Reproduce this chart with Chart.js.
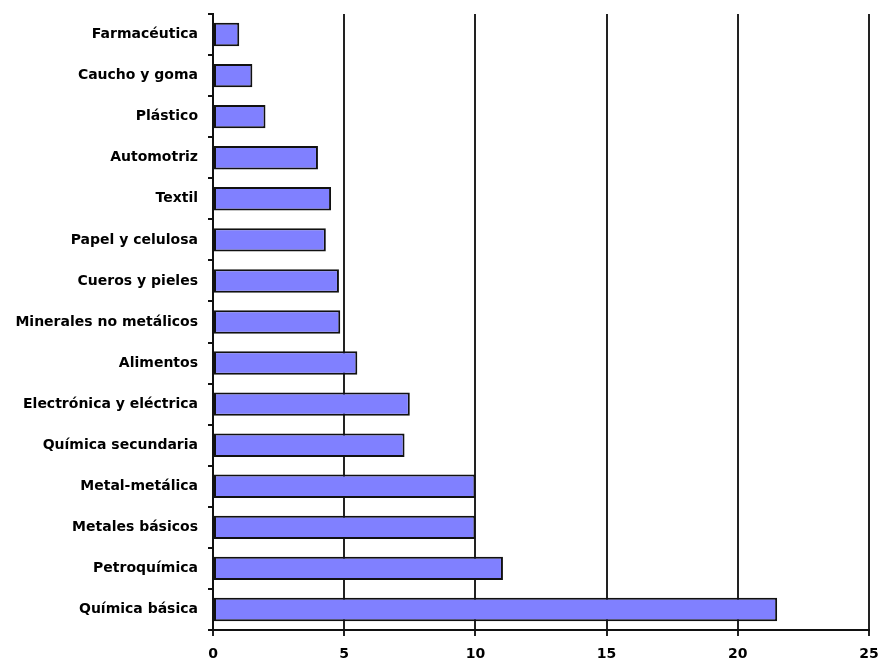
<!DOCTYPE html>
<html lang="es">
  <head>
    <meta charset="utf-8" />
    <title>Sectores industriales</title>
    <script src="https://cdn.jsdelivr.net/npm/chart.js"></script>
    <style>
      html,
      body {
        margin: 0;
        padding: 0;
        background: #ffffff;
      }
      #chart {
        display: block;
      }
    </style>
  </head>
  <body>
    <canvas id="chart" width="881" height="663"></canvas>
    <script>
      // sectors, top to bottom
      const sectores = [
        "Farmacéutica",
        "Caucho y goma",
        "Plástico",
        "Automotriz",
        "Textil",
        "Papel y celulosa",
        "Cueros y pieles",
        "Minerales no metálicos",
        "Alimentos",
        "Electrónica y eléctrica",
        "Química secundaria",
        "Metal-metálica",
        "Metales básicos",
        "Petroquímica",
        "Química básica",
      ];
      const valores = [
        1.0, 1.5, 2.0, 4.0, 4.5, 4.3, 4.8, 4.85, 5.5, 7.5, 7.3, 10.0, 10.0,
        11.05, 21.5,
      ];
      const ejeMin = 0;
      const ejeMax = 25;
      const ejePaso = 5;

      const ctx = document.getElementById("chart").getContext("2d");
      new Chart(ctx, {
        type: "bar",
        data: {
          labels: sectores,
          datasets: [
            {
              data: valores,
              backgroundColor: "#8080ff",
              borderColor: "#111111",
              borderWidth: 2,
              borderSkipped: false,
              barPercentage: 0.57,
              categoryPercentage: 1,
            },
          ],
        },
        options: {
          indexAxis: "y",
          responsive: false,
          animation: false,
          layout: {
            padding: { top: 14, right: 12, bottom: 0, left: 0 },
          },
          plugins: {
            legend: { display: false },
            tooltip: { enabled: false },
          },
          scales: {
            x: {
              min: ejeMin,
              max: ejeMax,
              afterFit: (scale) => {
                scale.height = 33;
                scale.paddingRight = 0;
              },
              ticks: {
                stepSize: ejePaso,
                color: "#000000",
                padding: 10,
                font: { family: "DejaVu Sans", weight: "bold", size: 14 },
              },
              grid: {
                color: "#222222",
                lineWidth: 2,
                tickLength: 6,
              },
              border: { color: "#111111", width: 2 },
            },
            y: {
              afterFit: (scale) => {
                scale.width = 213;
                scale.paddingTop = 0;
                scale.paddingBottom = 0;
              },
              ticks: {
                color: "#000000",
                padding: 10,
                font: { family: "DejaVu Sans", weight: "bold", size: 14 },
              },
              grid: {
                drawOnChartArea: false,
                color: "#111111",
                lineWidth: 2,
                tickLength: 5,
              },
              border: { color: "#111111", width: 2 },
            },
          },
        },
      });
    </script>
  </body>
</html>
